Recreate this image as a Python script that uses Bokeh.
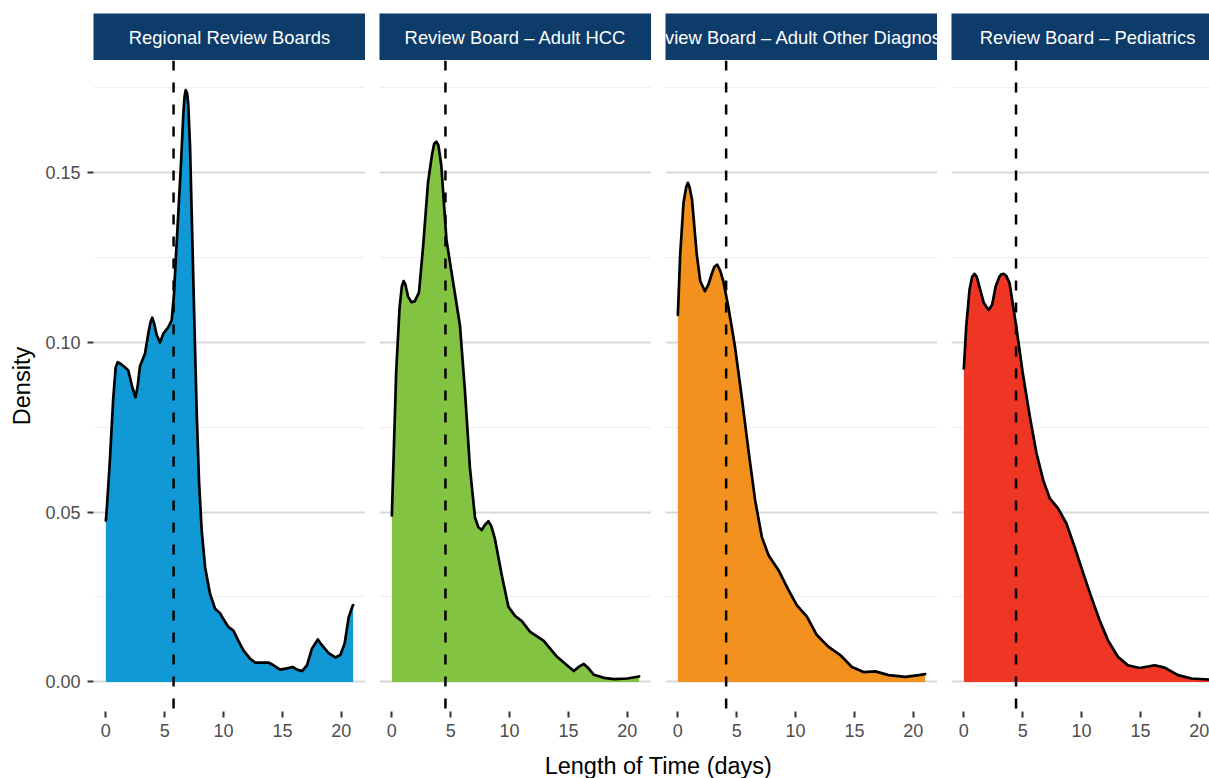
from bokeh.plotting import figure
from bokeh.layouts import row, column
from bokeh.models import Range1d, FixedTicker, Span, PrintfTickFormatter, GlobalInlineStyleSheet
from bokeh.embed import file_html
from bokeh.resources import INLINE
from bokeh.core.properties import value

# ---------------- data ----------------
PANELS = [
    "Regional Review Boards",
    "Review Board \u2013 Adult HCC",
    "Review Board \u2013 Adult Other Diagnoses",
    "Review Board \u2013 Pediatrics",
]
COLORS = ["#1199D5", "#82C341", "#F3911F", "#EF3524"]

regional_days = [0, 0.06, 0.33, 0.62, 0.83, 1.0, 1.19, 1.6, 1.9, 2.24, 2.52, 2.7, 2.9, 3.32, 3.6,
                 3.8, 3.94, 4.1, 4.31, 4.6, 4.88, 5.3, 5.59, 5.79, 5.93, 6.15, 6.38, 6.58, 6.68,
                 6.78, 6.9, 7.0, 7.15, 7.29, 7.43, 7.57, 7.72, 7.91, 8.14, 8.43, 8.85, 9.28, 9.7,
                 9.98, 10.4, 10.83, 11.26, 11.7, 12.26, 12.68, 13.8, 14.24, 14.8, 15.38, 15.86,
                 16.23, 16.66, 17.08, 17.5, 18.0, 18.35, 18.92, 19.49, 19.91, 20.28, 20.62,
                 20.96, 21.0]
regional_dens = [0.0475, 0.050, 0.0645, 0.083, 0.0925, 0.0941, 0.0938, 0.0927, 0.0917, 0.0868,
                 0.0838, 0.0870, 0.0930, 0.0966, 0.1025, 0.1060, 0.1072, 0.1055, 0.1022,
                 0.0999, 0.1025, 0.1044, 0.1064, 0.1143, 0.124, 0.1378, 0.1526, 0.1673,
                 0.1722, 0.1742, 0.1732, 0.1700, 0.1575, 0.1378, 0.1182, 0.0985, 0.0789,
                 0.0592, 0.0445, 0.0337, 0.0259, 0.0215, 0.0202, 0.0185, 0.0162, 0.0151,
                 0.0121, 0.0092, 0.0068, 0.0057, 0.0057, 0.0049, 0.0036, 0.0040, 0.0044,
                 0.0036, 0.0032, 0.0049, 0.0098, 0.0125, 0.0108, 0.0085, 0.0072, 0.0079,
                 0.0113, 0.0190, 0.0224, 0.0226]

hcc_days = [0, 0.37, 0.65, 0.85, 1.0, 1.15, 1.37, 1.65, 1.94, 2.3, 2.65, 3.07, 3.4, 3.6, 3.78,
            3.95, 4.2, 4.64, 5.2, 5.78, 6.2, 6.63, 7.06, 7.35, 7.63, 7.9, 8.2, 8.45, 8.76, 9.33,
            9.9, 10.47, 11.04, 11.75, 12.9, 14.03, 15.45, 15.9, 16.3, 16.7, 17.16, 18.0, 18.87,
            20.0, 21.0]
hcc_dens = [0.049, 0.0915, 0.110, 0.1165, 0.118, 0.117, 0.1135, 0.1118, 0.112, 0.1146, 0.128,
            0.147, 0.155, 0.1585, 0.159, 0.158, 0.152, 0.130, 0.1177, 0.105, 0.086, 0.063,
            0.0484, 0.0455, 0.0447, 0.0462, 0.0473, 0.0458, 0.042, 0.0315, 0.0221, 0.0194,
            0.0179, 0.0147, 0.0121, 0.0074, 0.0032, 0.0045, 0.0053, 0.0040, 0.0021, 0.0012,
            0.0008, 0.0010, 0.0016]

other_days = [0, 0.2, 0.48, 0.7, 0.85, 1.0, 1.2, 1.6, 1.9, 2.3, 2.6, 2.87, 3.1, 3.35, 3.6, 3.86,
              4.28, 4.85, 5.42, 5.99, 6.56, 7.13, 7.7, 8.55, 9.4, 10.1, 10.96, 11.8, 12.8,
              13.79, 14.78, 15.77, 16.77, 17.9, 19.32, 20.46, 21.0]
other_dens = [0.108, 0.126, 0.141, 0.1455, 0.1469, 0.1455, 0.142, 0.126, 0.118, 0.115, 0.117,
              0.120, 0.1222, 0.1228, 0.1210, 0.118, 0.1105, 0.0987, 0.084, 0.0683, 0.0535,
              0.0427, 0.0373, 0.0329, 0.027, 0.0226, 0.0192, 0.0138, 0.0103, 0.0079, 0.0044,
              0.0029, 0.0031, 0.0020, 0.0015, 0.0020, 0.0023]

peds_days = [0, 0.2, 0.48, 0.7, 0.9, 1.1, 1.31, 1.7, 2.1, 2.4, 2.7, 3.0, 3.2, 3.37, 3.6, 3.88,
             4.45, 5.0, 5.6, 6.17, 6.74, 7.3, 8.0, 8.7, 9.4, 10.1, 10.81, 11.52, 12.23, 13.08,
             13.93, 14.92, 16.2, 17.05, 18.19, 19.32, 20.85, 21.0]
peds_dens = [0.0923, 0.1046, 0.1154, 0.1192, 0.1201, 0.1192, 0.1164, 0.1115, 0.1095, 0.111,
             0.1164, 0.1192, 0.1200, 0.1201, 0.1195, 0.1174, 0.1046, 0.0909, 0.0781, 0.0673,
             0.0594, 0.054, 0.0511, 0.0467, 0.0398, 0.0324, 0.0251, 0.0182, 0.0123, 0.0074,
             0.0049, 0.0041, 0.0049, 0.0042, 0.0020, 0.0010, 0.0007, 0.0007]

MEDIANS = [5.75, 4.55, 4.1, 4.43]

X_TICKS = [0, 5, 10, 15, 20]
Y_TICKS = [0.0, 0.05, 0.10, 0.15]
Y_MINOR = [0.025, 0.075, 0.125, 0.175]
DAYS_MIN, DAYS_MAX = 0, 21

SERIES = [(regional_days, regional_dens), (hcc_days, hcc_dens),
          (other_days, other_dens), (peds_days, peds_dens)]

# ---------------- layout constants ----------------
PAGE_W = 1209
LEFT = 93
FRAME_W = 272
GAP = 14
STRIP_TOP = 13
STRIP_H = 47
PANEL_H = 651
BOTTOM = 40
TITLE_H = 27
NAVY = "#0D3B6A"
FONT = "Liberation Sans"

xpad = 0.05 * (DAYS_MAX - DAYS_MIN)
x0, x1 = DAYS_MIN - xpad, DAYS_MAX + xpad
ymax = max(max(d) for _, d in SERIES)
y0, y1 = -0.05 * ymax, ymax * 1.05

strips, panels = [], []
for i, (days, dens) in enumerate(SERIES):
    left = LEFT if i == 0 else GAP
    if i < 3:
        fw = FRAME_W
    else:
        # last facet is cut by the right edge of the page, as in the reference
        fw = PAGE_W - (LEFT + 3 * (FRAME_W + GAP))
    xr = Range1d(x0, x0 + (x1 - x0) * fw / FRAME_W)

    # strip
    s = figure(width=left + fw, height=STRIP_TOP + STRIP_H, x_range=xr, y_range=Range1d(0, 1),
               min_border_left=left, min_border_right=0, min_border_top=STRIP_TOP,
               min_border_bottom=0, x_axis_location=None, y_axis_location=None,
               background_fill_color=NAVY, border_fill_color="white", outline_line_color=None,
               output_backend="svg", toolbar_location=None)
    s.grid.visible = False
    s.text(x=[(DAYS_MIN + DAYS_MAX) / 2], y=[0.5], text=[PANELS[i]], text_align="center",
           text_baseline="middle", text_color="white", text_font=value(FONT),
           text_font_size="18.4px")
    strips.append(s)

    # panel
    p = figure(width=left + fw, height=PANEL_H + BOTTOM, x_range=xr, y_range=Range1d(y0, y1),
               min_border_left=left, min_border_right=0, min_border_top=0,
               min_border_bottom=BOTTOM, y_axis_location="left" if i == 0 else None,
               outline_line_color=None, background_fill_color="white",
               output_backend="svg", toolbar_location=None)
    p.xgrid.visible = False
    p.ygrid.ticker = FixedTicker(ticks=Y_TICKS, minor_ticks=Y_MINOR)
    p.ygrid.grid_line_color = "#d9d9d9"
    p.ygrid.grid_line_width = 2
    p.ygrid.minor_grid_line_color = "#efefef"
    p.ygrid.minor_grid_line_width = 1

    ax = p.xaxis[0]
    ax.ticker = FixedTicker(ticks=X_TICKS)
    ax.axis_line_color = None
    ax.major_tick_in = 0
    ax.major_tick_out = 6
    ax.major_tick_line_color = "#333333"
    ax.major_tick_line_width = 2
    ax.minor_tick_line_color = None
    ax.major_label_text_font = FONT
    ax.major_label_text_font_size = "18px"
    ax.major_label_text_color = "#4d4d4d"
    ax.major_label_standoff = 6

    if i == 0:
        ay = p.yaxis[0]
        ay.ticker = FixedTicker(ticks=Y_TICKS)
        ay.formatter = PrintfTickFormatter(format="%.2f")
        ay.axis_line_color = None
        ay.major_tick_in = 0
        ay.major_tick_out = 6
        ay.major_tick_line_color = "#333333"
        ay.major_tick_line_width = 2
        ay.minor_tick_line_color = None
        ay.major_label_text_font = FONT
        ay.major_label_text_font_size = "18px"
        ay.major_label_text_color = "#4d4d4d"
        ay.major_label_standoff = 7
        ay.axis_label = "Density"
        ay.axis_label_text_font = FONT
        ay.axis_label_text_font_size = "23.5px"
        ay.axis_label_text_font_style = "normal"
        ay.axis_label_text_color = "black"
        ay.axis_label_standoff = 7

    p.varea(x=days, y1=0, y2=dens, fill_color=COLORS[i])
    p.line(days, dens, line_color="black", line_width=2.7, line_join="round",
           line_cap="round")
    p.add_layout(Span(location=MEDIANS[i], dimension="height", line_color="black",
                      line_width=2.5, line_dash="10 12"))
    panels.append(p)

# shared x-axis title
t = figure(width=PAGE_W, height=TITLE_H, x_range=Range1d(0, PAGE_W), y_range=Range1d(0, TITLE_H),
           min_border=0, x_axis_location=None, y_axis_location=None, outline_line_color=None,
           output_backend="svg", toolbar_location=None)
t.grid.visible = False
panels_center = LEFT + (4 * FRAME_W + 3 * GAP) / 2
t.text(x=[panels_center], y=[13], text=["Length of Time (days)"], text_align="center",
       text_baseline="middle", text_color="black", text_font=value(FONT),
       text_font_size="23.5px")

layout = column(row(*strips, spacing=0), row(*panels, spacing=0), t, spacing=0)
layout.stylesheets = [GlobalInlineStyleSheet(
    css="html, body { overflow: hidden !important; margin: 0 !important; }")]

open("out.html", "w").write(file_html(layout, INLINE))
